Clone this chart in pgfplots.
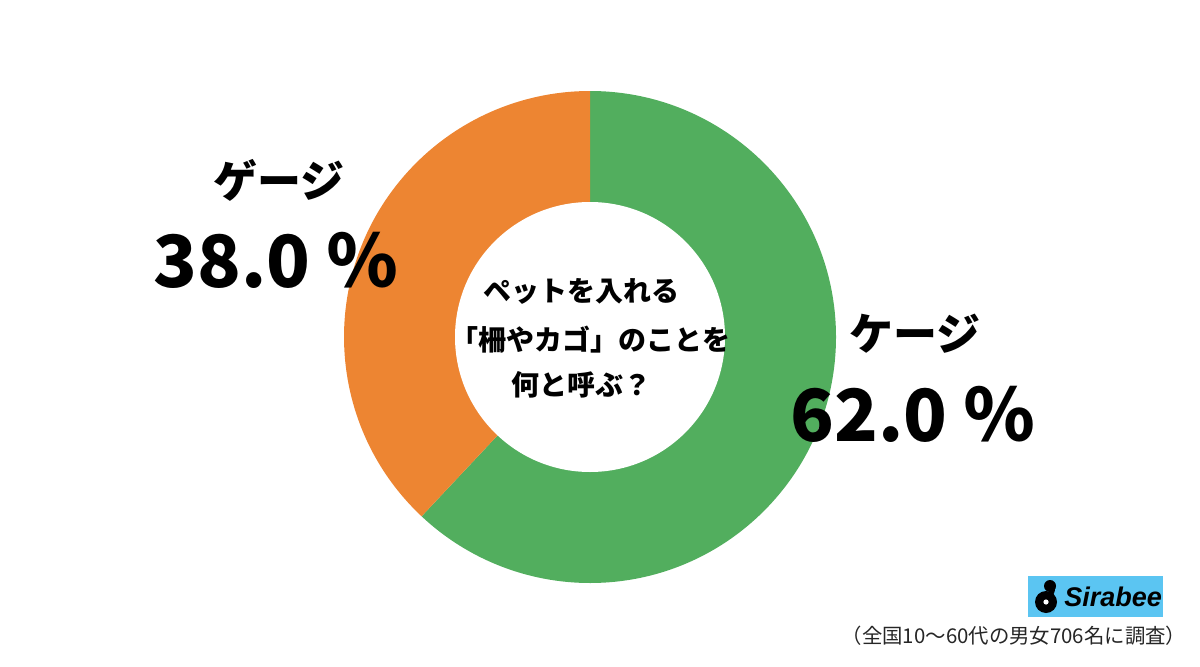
\documentclass[border=0pt]{standalone}
\usepackage{fontspec}
\usepackage{pgfplots}
\usepackage{pgfplotstable}
\pgfplotsset{compat=1.18}
\newfontfamily\jp{Noto Sans CJK JP}
\newfontfamily\logofont{Liberation Sans}
\definecolor{cgreen}{RGB}{82,174,94}
\definecolor{corange}{RGB}{237,133,50}
\definecolor{clogo}{RGB}{91,197,242}
\pgfplotstableread{
idx value
0 62.0
1 38.0
}\datatable
\begin{document}%
\pgfplotstablegetelem{0}{value}\of\datatable%
\let\valA\pgfplotsretval%
\pgfplotstablegetelem{1}{value}\of\datatable%
\let\valB\pgfplotsretval%
\pgfmathsetmacro{\ga}{90-3.6*\valA}%
\pgfmathsetmacro{\gb}{\ga-3.6*\valB}%
\begin{tikzpicture}
\begin{axis}[width=600pt,height=333pt,scale only axis,
  xmin=0,xmax=1200,ymin=0,ymax=666,hide axis,clip=false]
% donut
\fill[cgreen] (axis cs:590,329) -- ++(90:123pt) arc[start angle=90, end angle=\ga, radius=123pt] -- cycle;
\fill[corange] (axis cs:590,329) -- ++(\ga:123pt) arc[start angle=\ga, end angle=\gb, radius=123pt] -- cycle;
\fill[white] (axis cs:590,329) circle[radius=67.5pt];
% center text
\node[font=\jp\bfseries\fontsize{14}{16}\selectfont] at (axis cs:581,375) {ペットを入れる};
\node[font=\jp\bfseries\fontsize{14}{16}\selectfont] at (axis cs:590,326) {「柵やカゴ」のことを};
\node[font=\jp\bfseries\fontsize{14}{16}\selectfont] at (axis cs:581,281) {何と呼ぶ？};
% labels
\node[font=\jp\bfseries\fontsize{22}{26}\selectfont] at (axis cs:279,486) {ゲージ};
\node[font=\jp\bfseries\fontsize{36}{42}\selectfont,anchor=base] at (axis cs:276,379) {38.0 ％};
\node[font=\jp\bfseries\fontsize{22}{26}\selectfont] at (axis cs:915,332) {ケージ};
\node[font=\jp\bfseries\fontsize{36}{42}\selectfont,anchor=base] at (axis cs:913,225) {62.0 ％};
% logo
\fill[clogo] (axis cs:1028,49) rectangle (axis cs:1163,90);
\fill[black] (axis cs:1046,64) circle[radius=5.5pt];
\fill[black] (axis cs:1050,80) circle[radius=3pt];
\draw[black,line width=2.2pt] (axis cs:1052,80) to[out=-60,in=60] (axis cs:1050,70);
\fill[white] (axis cs:1046,64) circle[radius=1.3pt];
\node[font=\logofont\bfseries\itshape\fontsize{13.5}{16}\selectfont,anchor=west,inner sep=0pt] at (axis cs:1064,69.5) {Sirabee};
% footnote
\node[font=\jp\fontsize{10.2}{12}\selectfont,text=black!85] at (axis cs:1014,30) {（全国10〜60代の男女706名に調査）};
\end{axis}
\pgfresetboundingbox
\useasboundingbox (current axis.south west) rectangle (current axis.north east);
\end{tikzpicture}%
\end{document}
